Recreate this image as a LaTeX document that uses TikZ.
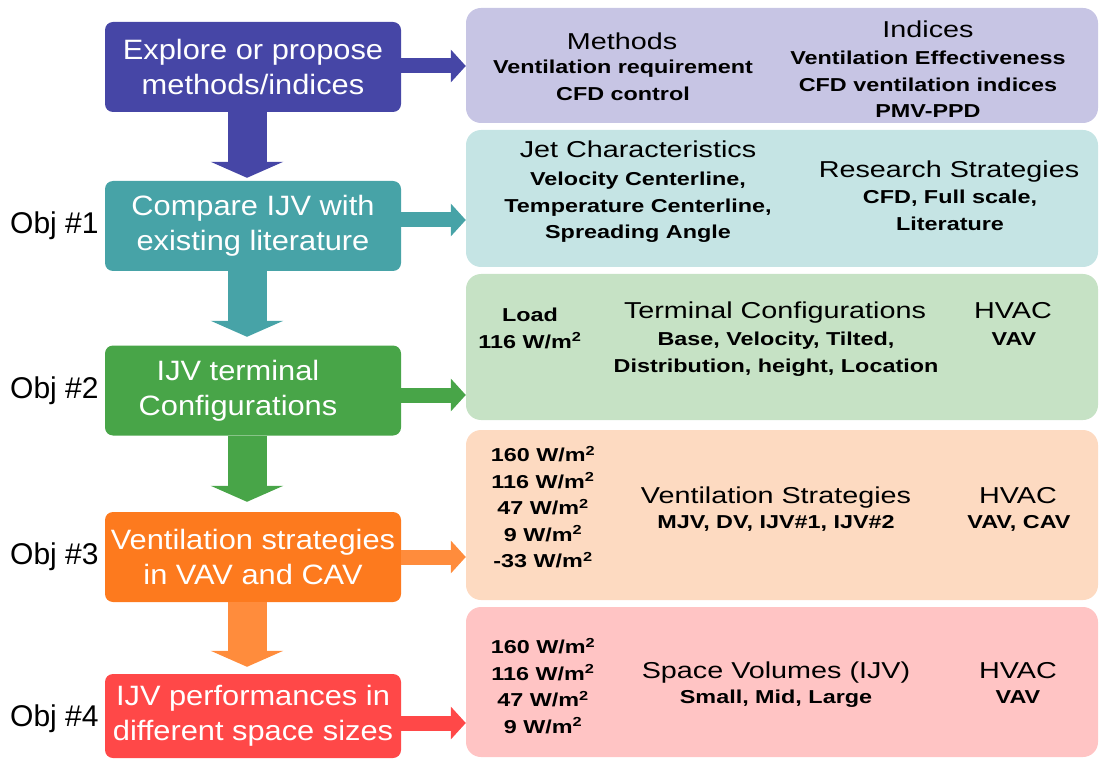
\documentclass[tikz,border=0pt]{standalone}
\usepackage{fontspec}
\setmainfont{Liberation Sans}
\newfontfamily\boxfont[FakeStretch=1.1]{Liberation Sans}
\newfontfamily\panelfont[FakeStretch=1.25]{Liberation Sans}
\usetikzlibrary{arrows.meta,positioning,calc}

\definecolor{cA}{RGB}{70,70,166}
\definecolor{cB}{RGB}{71,163,167}
\definecolor{cC}{RGB}{72,165,72}
\definecolor{cD}{RGB}{253,122,30}
\definecolor{cF}{RGB}{255,140,60}
\definecolor{cE}{RGB}{255,72,72}
\definecolor{pA}{RGB}{199,197,228}
\definecolor{pB}{RGB}{197,228,228}
\definecolor{pC}{RGB}{198,226,197}
\definecolor{pD}{RGB}{253,218,193}
\definecolor{pE}{RGB}{255,196,196}

\newcommand{\wm}{W/m\textsuperscript{\smash{2}}}

\begin{document}
\begin{tikzpicture}[x=1pt,y=-1pt,
  objbox/.style={rounded corners=8pt, minimum width=296pt, minimum height=90pt, inner sep=0pt,
    text=white, align=center, font=\boxfont\fontsize{28}{35}\selectfont},
  panel/.style={rounded corners=15pt, minimum width=632pt, inner sep=0pt},
  head/.style={anchor=base, inner sep=0pt, font=\panelfont\fontsize{23}{28}\selectfont},
  sub/.style={anchor=north, inner sep=0pt, align=center,
    font=\panelfont\bfseries\fontsize{18.7}{26.5}\selectfont},
  objlbl/.style={inner sep=0pt, font=\fontsize{30}{36}\selectfont},
  down/.style={draw=#1, line width=39pt, -{Triangle[width=72pt,length=16pt]}},
  side/.style={draw=#1, line width=15pt, -{Triangle[width=32pt,length=15pt]}}]
	\useasboundingbox (0,0) rectangle (1100,759);

	\node[objbox, fill=cA] (b1) at (253,67) {Explore or propose\\methods/indices};
	\node[objbox, fill=cB] (b2) at (253,226) {Compare IJV with\\existing literature};
	\node[objbox, fill=cC] (b3) at (253,390.5) {IJV terminal\hspace*{30pt}\\Configurations\hspace*{30pt}};
	\node[objbox, fill=cD] (b4) at (253,557) {Ventilation strategies\\in VAV and CAV};
	\node[objbox, fill=cE, minimum height=84pt] (b5) at (253,716) {IJV performances in\\different space sizes};

	\node[objlbl, left=6pt of b2] (o1) {Obj \#1};
	\node[objlbl, left=6pt of b3] (o2) {Obj \#2};
	\node[objlbl, left=6pt of b4] (o3) {Obj \#3};
	\node[objlbl, left=6pt of b5, yshift=-3pt] (o4) {Obj \#4};

	\node[panel, fill=pA, minimum height=115pt] (p1) at (782,65.5) {};
	\node[panel, fill=pB, minimum height=137pt] (p2) at (782,198.5) {};
	\node[panel, fill=pC, minimum height=146pt] (p3) at (782,347) {};
	\node[panel, fill=pD, minimum height=170pt] (p4) at (782,515) {};
	\node[panel, fill=pE, minimum height=150pt] (p5) at (782,682) {};

	\node[head] (mh) at (622,50) {Methods};
	\node[sub] (ms) at (623,60) {Ventilation requirement\\CFD control};
	\node[head] (ih) at (928,38) {Indices};
	\node[sub] (is) at (928,51) {Ventilation Effectiveness\\CFD ventilation indices\\PMV-PPD};

	\node[head] (jh) at (638,158) {Jet Characteristics};
	\node[sub] (js) at (638,172) {Velocity Centerline,\\Temperature Centerline,\\Spreading Angle};
	\node[head] (rh) at (949,178) {Research Strategies};
	\node[sub] (rs) at (950,190) {CFD, Full scale,\\Literature};

	\node[sub] (ld3) at (530,308) {Load\\116 \wm};
	\node[head] (th) at (775,318) {Terminal Configurations};
	\node[sub] (ts) at (776,332) {Base, Velocity, Tilted,\\Distribution, height, Location};
	\node[head] (hh3) at (1013,319) {HVAC};
	\node[sub] (hs3) at (1014,332) {VAV};

	\node[sub] (ld4) at (543,448) {160 \wm\\116 \wm\\47 \wm\\9 \wm\\-33 \wm};
	\node[head] (vh) at (776,503) {Ventilation Strategies};
	\node[sub] (vs) at (776,515) {MJV, DV, IJV\#1, IJV\#2};
	\node[head] (hh4) at (1018,503) {HVAC};
	\node[sub] (hs4) at (1019,515) {VAV, CAV};

	\node[sub] (ld5) at (543,640) {160 \wm\\116 \wm\\47 \wm\\9 \wm};
	\node[head] (sh) at (776,678) {Space Volumes (IJV)};
	\node[sub] (ss) at (776,690) {Small, Mid, Large};
	\node[head] (hh5) at (1018,678) {HVAC};
	\node[sub] (hs5) at (1018,690) {VAV};

	\draw[down=cA, shorten >=3pt] ($(b1.south)+(-6,0)$) -- ($(b2.north)+(-6,0)$);
	\draw[down=cB, shorten >=8.5pt] ($(b2.south)+(-6,0)$) -- ($(b3.north)+(-6,0)$);
	\draw[down=cC, shorten >=10pt] ($(b3.south)+(-6,0)$) -- ($(b4.north)+(-6,0)$);
	\draw[down=cF, shorten >=7pt] ($(b4.south)+(-6,0)$) -- ($(b5.north)+(-6,0)$);

	\draw[side=cA] (b1.east |- 0,66) -- (p1.west |- 0,66);
	\draw[side=cB] (b2.east |- 0,220) -- (p2.west |- 0,220);
	\draw[side=cC] (b3.east |- 0,395) -- (p3.west |- 0,395);
	\draw[side=cF] (b4.east |- 0,557) -- (p4.west |- 0,557);
	\draw[side=cE] (b5.east |- 0,723) -- (p5.west |- 0,723);
\end{tikzpicture}
\end{document}
